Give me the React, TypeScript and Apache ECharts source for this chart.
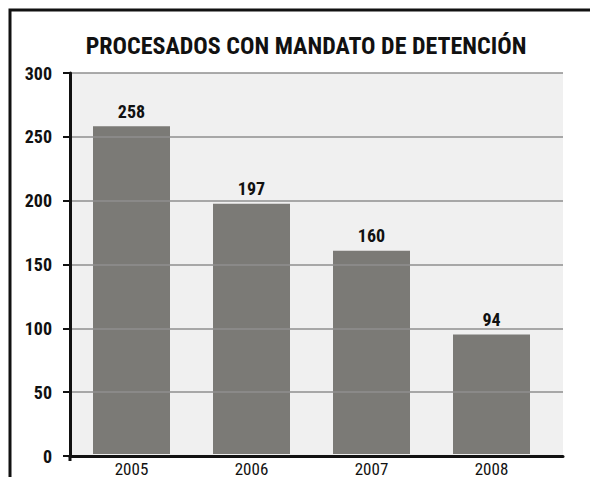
import React, { useEffect, useRef } from "react";
import * as echarts from "echarts";

const title = "PROCESADOS CON MANDATO DE DETENCIÓN";
const categories = ["2005", "2006", "2007", "2008"];
const values = [258, 197, 160, 94];
const yTicks = { min: 0, max: 300, interval: 50 };

const FONT = "'Roboto Condensed', 'Open Sans Condensed', sans-serif";

export default function App() {
  const ref = useRef<HTMLDivElement>(null);
  useEffect(() => {
    if (!ref.current) return;
    const chart = echarts.init(ref.current, undefined, { renderer: "svg" });
    chart.setOption({
      animation: false,
      backgroundColor: "#ffffff",
      title: {
        text: title,
        left: 301,
        textAlign: "center",
        top: 29,
        textStyle: { fontFamily: FONT, fontWeight: "bold", fontSize: 24, color: "#111" },
      },
      graphic: [
        {
          type: "polyline",
          shape: { points: [[10, 477], [10, 10], [590, 10]] },
          style: { stroke: "#111", lineWidth: 3, fill: "none" },
          z: 100,
        },
        {
          type: "line",
          shape: { x1: 70, y1: 455, x2: 70, y2: 461 },
          style: { stroke: "#111", lineWidth: 3 },
          z: 100,
        },
      ],
      grid: [
        { left: 70, right: 27, top: 73, bottom: 21, show: true, backgroundColor: "#f0f0f0", borderWidth: 0 },
        { left: 71.5, right: 38.5, top: 73, bottom: 21 },
      ],
      xAxis: [
        {
          type: "category",
          gridIndex: 0,
          data: categories,
          axisLine: { show: true, lineStyle: { color: "#111", width: 3 } },
          axisTick: { show: false },
          axisLabel: { show: false },
          z: 5,
        },
        {
          type: "category",
          gridIndex: 1,
          data: categories,
          axisLine: { show: false },
          axisTick: { show: false },
          axisLabel: { fontFamily: FONT, fontSize: 17, color: "#111", margin: 6 },
        },
      ],
      yAxis: [
        {
          type: "value",
          gridIndex: 0,
          min: yTicks.min,
          max: yTicks.max,
          interval: yTicks.interval,
          axisLine: { show: true, lineStyle: { color: "#111", width: 3 } },
          axisTick: { show: true, length: 7, lineStyle: { color: "#111", width: 2 } },
          axisLabel: { fontFamily: FONT, fontWeight: "bold", fontSize: 18, color: "#111", margin: 18 },
          splitLine: { show: true, lineStyle: { color: "#8f8f8f", width: 1.5 } },
          z: 5,
        },
        {
          type: "value",
          gridIndex: 1,
          min: yTicks.min,
          max: yTicks.max,
          interval: yTicks.interval,
          show: false,
          splitLine: { show: false },
        },
      ],
      series: [
        {
          type: "bar",
          xAxisIndex: 1,
          yAxisIndex: 1,
          data: values,
          barWidth: 77,
          itemStyle: { color: "#7b7a76" },
          z: 3,
          label: {
            show: true,
            position: "top",
            distance: 6,
            fontFamily: FONT,
            fontWeight: "bold",
            fontSize: 18,
            color: "#111",
          },
        },
      ],
    });
    return () => chart.dispose();
  }, []);
  return <div ref={ref} style={{ width: 590, height: 477, position: "absolute", left: 0, top: 0 }} />;
}
